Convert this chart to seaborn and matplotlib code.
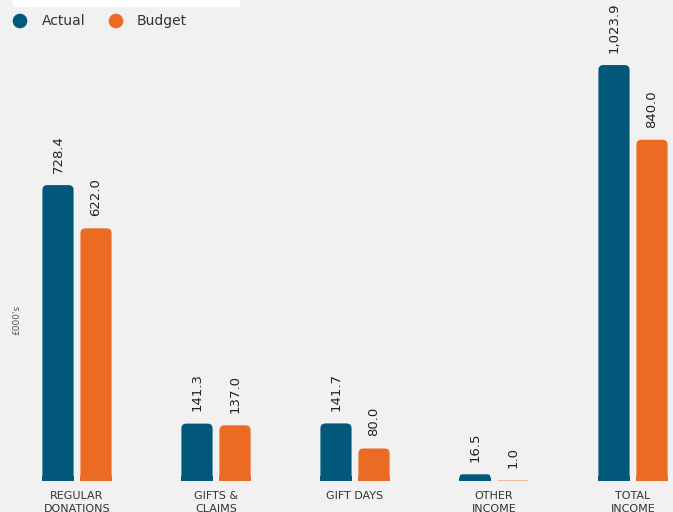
import matplotlib
matplotlib.use("Agg")
import matplotlib.pyplot as plt
from matplotlib.patches import FancyBboxPatch, Rectangle, Ellipse
import seaborn as sns
import pandas as pd

categories = ["REGULAR\nDONATIONS", "GIFTS &\nCLAIMS", "GIFT DAYS", "OTHER\nINCOME", "TOTAL\nINCOME"]
actual = [728.4, 141.3, 141.7, 16.5, 1023.9]
budget = [622.0, 137.0, 80.0, 1.0, 840.0]
series = ["Actual", "Budget"]
colors = ["#02587a", "#ec6b24"]
bg = "#f0f1f0"

df = pd.DataFrame({
    "cat": categories * 2,
    "val": actual + budget,
    "series": [series[0]] * len(categories) + [series[1]] * len(categories),
})

sns.set_theme(style="white")
plt.rcParams["font.family"] = ["DejaVu Sans"]

W, H, DPI = 673, 512, 100
fig = plt.figure(figsize=(W / DPI, H / DPI), dpi=DPI, facecolor=bg)
base_px = 31
ax = fig.add_axes([0, base_px / H, 1, (H - base_px) / H])
ax.set_facecolor(bg)

sns.barplot(data=df, x="cat", y="val", hue="series", order=categories,
            hue_order=series, palette=colors, width=0.547, gap=0.18,
            legend=False, ax=ax, saturation=1)

xlim = (-77 / 139, (W - 77) / 139)
ylim = (0, 1184)
ax.set_xlim(*xlim)
ax.set_ylim(*ylim)

px_per_x = W / (xlim[1] - xlim[0])
px_per_y = (H - base_px) / (ylim[1] - ylim[0])
r_px = 5.0

for p in list(ax.patches):
    x, y, w, h = p.get_x(), p.get_y(), p.get_width(), p.get_height()
    if h <= 0:
        continue
    col = p.get_facecolor()
    p.set_visible(False)
    h_px = h * px_per_y
    r = min(r_px, h_px / 2.0, w * px_per_x / 2.0)
    rs = r / px_per_x
    asp = px_per_x / px_per_y
    fb = FancyBboxPatch((x, 0), w, h, boxstyle=f"round,pad=0,rounding_size={rs}",
                        mutation_aspect=asp, facecolor=col, edgecolor="none",
                        linewidth=0, zorder=3)
    ax.add_patch(fb)
    ax.add_patch(Rectangle((x, 0), w, min(h, r / px_per_y), facecolor=col,
                           edgecolor="none", linewidth=0, zorder=3))
    ax.text(x + w / 2, h + 30, f"{h:,.1f}", rotation=90, ha="center", va="bottom",
            fontsize=9.5, color="#222222", zorder=4)

for s in ax.spines.values():
    s.set_visible(False)
ax.set_yticks([])
ax.set_xlabel("")
ax.set_ylabel("")
ax.tick_params(axis="x", length=0, pad=7.5, labelsize=8, colors="#333333")
for t in ax.get_xticklabels():
    t.set_linespacing(1.3)

ax.text(17 / W, 0.335, "£000's", transform=ax.transAxes, rotation=90,
        ha="center", va="center", fontsize=6.5, color="#555555")

# top-left white strip and legend
fig.patches.append(Rectangle((13 / W, 1 - 7 / H), (240 - 13) / W, 7 / H,
                             transform=fig.transFigure, facecolor="white",
                             edgecolor="none"))
rad = 7.3
for cx, tx, lab, col in [(20, 42, series[0], colors[0]), (116, 137, series[1], colors[1])]:
    fig.add_artist(Ellipse((cx / W, 1 - 21 / H), 2 * rad / W, 2 * rad / H,
                           transform=fig.transFigure, facecolor=col, edgecolor="none"))
    fig.text(tx / W, 1 - 21 / H, lab, ha="left", va="center", fontsize=10,
             color="#333333")

fig.savefig("out.png", dpi=DPI, facecolor=bg)
